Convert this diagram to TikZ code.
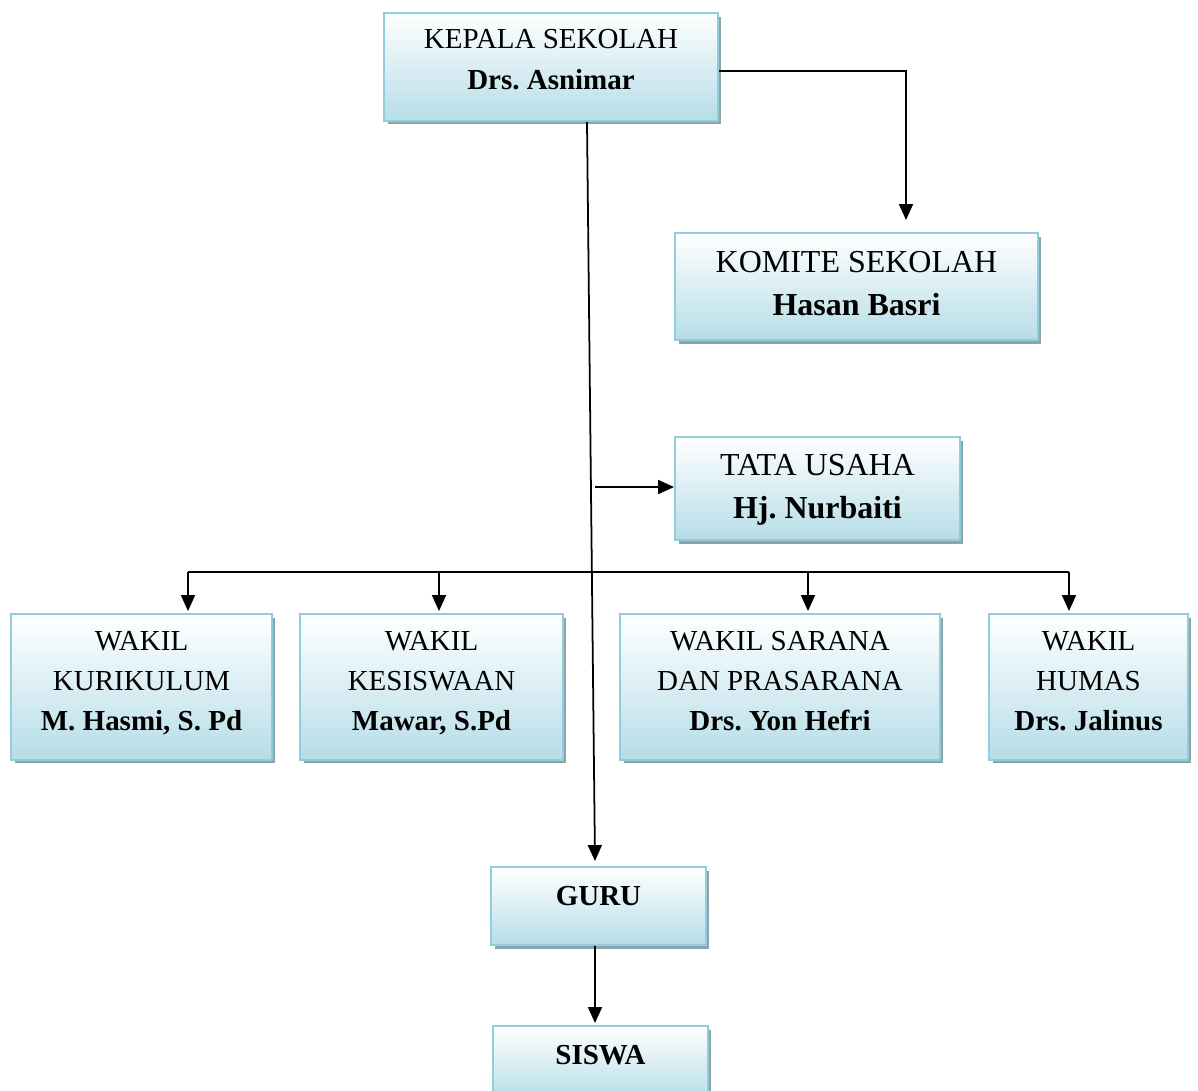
\documentclass[tikz,border=0pt]{standalone}
\usepackage{fontspec}
\setmainfont{Liberation Serif}
\usepackage{xcolor}
\usepackage{tikz}
\usetikzlibrary{arrows.meta, shadows}

\definecolor{garis}{RGB}{146,205,220}
\definecolor{isi}{RGB}{182,221,232}
\definecolor{bayang}{RGB}{142,164,173}

% teks kotak, bisa dinaikkan sedikit
\newcommand{\teks}[2][0pt]{\raisebox{#1}[\height][\depth]{\begin{tabular}{@{}c@{}}#2\end{tabular}}}
\frenchspacing

\begin{document}
\begin{tikzpicture}[
  x=0.02cm, y=-0.02cm,
  kotak/.style={rectangle, draw=garis, line width=1.1pt,
                top color=white, bottom color=isi,
                drop shadow={shadow xshift=0.07cm, shadow yshift=-0.07cm,
                             fill=bayang, opacity=1},
                font=\fontsize{16.5}{22.8}\selectfont, inner sep=2pt},
  besar/.style={font=\fontsize{18.2}{24.4}\selectfont},
  panah/.style={-{Triangle[length=0.32cm, width=0.28cm]}, line width=1pt, black}
]
\useasboundingbox (0,0) rectangle (1198,1090);

\node[kotak, minimum width=6.68cm, minimum height=2.16cm] (ks) at (551,67)
  {\teks[0.12cm]{KEPALA SEKOLAH\\ \textbf{Drs. Asnimar}}};
\node[kotak, besar, minimum width=7.26cm, minimum height=2.14cm] (km) at (856.5,286.5)
  {\teks[0.03cm]{KOMITE SEKOLAH\\ \textbf{Hasan Basri}}};
\node[kotak, besar, minimum width=5.70cm, minimum height=2.06cm] (tu) at (817.5,488.5)
  {\teks{TATA USAHA\\ \textbf{Hj. Nurbaiti}}};

\node[kotak, minimum width=5.22cm, minimum height=2.92cm] (wk) at (141.5,687)
  {\teks[0.09cm]{WAKIL\\ KURIKULUM\\ \textbf{M. Hasmi, S. Pd}}};
\node[kotak, minimum width=5.26cm, minimum height=2.92cm] (wkes) at (431.5,687)
  {\teks[0.09cm]{WAKIL\\ KESISWAAN\\ \textbf{Mawar, S.Pd}}};
\node[kotak, minimum width=6.40cm, minimum height=2.92cm] (wsp) at (780,687)
  {\teks[0.09cm]{WAKIL SARANA\\ DAN PRASARANA\\ \textbf{Drs. Yon Hefri}}};
\node[kotak, minimum width=3.98cm, minimum height=2.92cm] (wh) at (1088.5,687)
  {\teks[0.09cm]{WAKIL\\ HUMAS\\ \textbf{Drs. Jalinus}}};

\node[kotak, minimum width=4.30cm, minimum height=1.56cm] (gr) at (598.5,906)
  {\teks[0.18cm]{\textbf{GURU}}};
\node[kotak, minimum width=4.30cm, minimum height=1.48cm] (sw) at (600.5,1063)
  {\teks[0.14cm]{\textbf{SISWA}}};

% titik bantu
\coordinate (kmt) at (906,220);
\coordinate (tuk) at (595,487);
\coordinate (b1) at (188,572);
\coordinate (b2) at (439,572);
\coordinate (b3) at (808,572);
\coordinate (b4) at (1069,572);

\draw[panah] ([yshift=-0.08cm]ks.east) -| (kmt);
\draw[panah] ([xshift=0.72cm]ks.south) -- ([xshift=-0.07cm, yshift=0.1cm]gr.north);
\draw[panah] (tuk) -- (tuk -| tu.west);

\draw[line width=1pt] (b1) -- (b4);
\foreach \b/\n in {b1/wk, b2/wkes, b3/wsp, b4/wh}
  \draw[panah] (\b) -- ([yshift=0.04cm]\b |- \n.north);

\draw[panah] ([xshift=-0.07cm]gr.south) -- ([xshift=-0.11cm, yshift=0.04cm]sw.north);
\end{tikzpicture}
\end{document}
